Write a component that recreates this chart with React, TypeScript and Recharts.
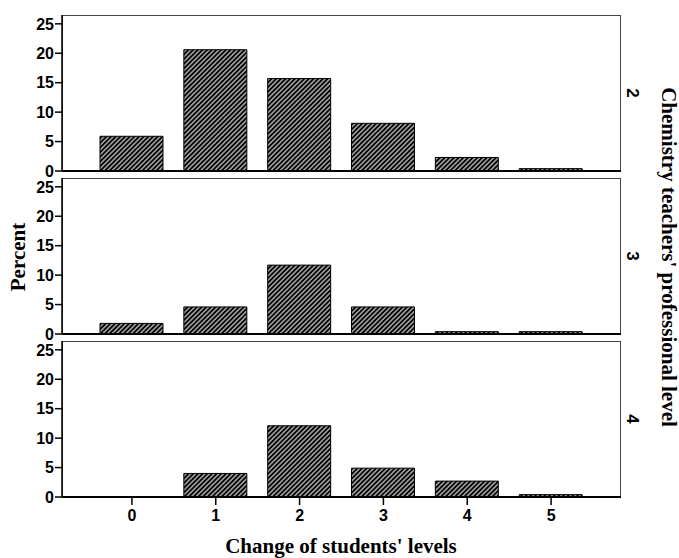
import { BarChart, Bar, XAxis, YAxis, ReferenceLine } from 'recharts';

const levels = ['0', '1', '2', '3', '4', '5'];
const yTicks = [0, 5, 10, 15, 20, 25];

// percent per change of students' levels, one array per teacher level
const level2 = [5.9, 20.6, 15.7, 8.1, 2.3, 0.4];
const level3 = [1.8, 4.6, 11.7, 4.6, 0.4, 0.4];
const level4 = [0, 4.0, 12.1, 4.9, 2.7, 0.4];

const panels = [
  { label: '2', values: level2, top: 15 },
  { label: '3', values: level3, top: 178 },
  { label: '4', values: level4, top: 341 },
];

const PLOT_LEFT = 62;
const PLOT_RIGHT = 621;
const PLOT_H = 156;
const W = 679;

const sans = 'Liberation Sans, Arial, sans-serif';
const serif = 'Liberation Serif, Times New Roman, serif';
const tickStyle = { fill: '#000', fontSize: 16, fontWeight: 700, fontFamily: sans };

function Panel({ values, idx, last }: { values: number[]; idx: number; last: boolean }) {
  const data = levels.map((level, i) => ({ level, value: values[i] }));
  const xh = last ? 40 : 0;
  const pid = `hatch${idx}`;
  return (
    <BarChart
      width={W}
      height={10 + PLOT_H + (last ? xh : 10)}
      data={data}
      margin={{ top: 10, right: W - PLOT_RIGHT, bottom: last ? 0 : 10, left: PLOT_LEFT - 40 }}
      barCategoryGap={0}
    >
      <defs>
        <pattern id={pid} patternUnits="userSpaceOnUse" width={3.3} height={3.3} patternTransform="rotate(45)">
          <rect x={0} y={0} width={3.3} height={3.3} fill="#000" />
          <line x1={1.65} y1={0} x2={1.65} y2={3.3} stroke="#fff" strokeWidth={1.0} />
        </pattern>
      </defs>
      <XAxis
        dataKey="level"
        hide={!last}
        height={xh}
        padding={{ left: 28, right: 28 }}
        axisLine={{ stroke: '#000', strokeWidth: 2 }}
        tickLine={{ stroke: '#000', strokeWidth: 1.5 }}
        tickSize={8}
        tickMargin={5}
        tick={tickStyle}
      />
      <YAxis
        width={40}
        domain={[0, 26.5]}
        ticks={yTicks}
        axisLine={{ stroke: '#000', strokeWidth: 1.5 }}
        tickLine={{ stroke: '#000', strokeWidth: 1.5 }}
        tickSize={7}
        tickMargin={1}
        tick={tickStyle}
      />
      <Bar
        dataKey="value"
        fill={`url(#${pid})`}
        stroke="#000"
        strokeWidth={1}
        barSize={63}
        isAnimationActive={false}
      />
      {!last && <ReferenceLine y={0} stroke="#000" strokeWidth={2} />}
    </BarChart>
  );
}

export default function App() {
  return (
    <div style={{ position: 'absolute', left: 0, top: 0, width: W, height: 558, background: '#fff', overflow: 'hidden' }}>
      {panels.map((p, i) => (
        <div key={p.label}>
          <div
            style={{
              position: 'absolute',
              left: PLOT_LEFT,
              top: p.top,
              width: PLOT_RIGHT - PLOT_LEFT,
              height: PLOT_H,
              boxSizing: 'border-box',
              border: '1px solid #444',
            }}
          />
          <div style={{ position: 'absolute', left: 0, top: p.top - 10 }}>
            <Panel values={p.values} idx={i} last={i === panels.length - 1} />
          </div>
          <div
            style={{
              position: 'absolute',
              left: 632,
              top: p.top + PLOT_H / 2,
              transform: 'translate(-50%, -50%) rotate(90deg)',
              fontFamily: sans,
              fontWeight: 700,
              fontSize: 17,
              lineHeight: 1,
            }}
          >
            {p.label}
          </div>
        </div>
      ))}
      <div
        style={{
          position: 'absolute',
          left: 18,
          top: 257,
          transform: 'translate(-50%, -50%) rotate(-90deg)',
          fontFamily: serif,
          fontWeight: 700,
          fontSize: 21,
          lineHeight: 1,
          whiteSpace: 'nowrap',
        }}
      >
        Percent
      </div>
      <div
        style={{
          position: 'absolute',
          left: 668,
          top: 257,
          transform: 'translate(-50%, -50%) rotate(90deg)',
          fontFamily: serif,
          fontWeight: 700,
          fontSize: 21,
          lineHeight: 1,
          whiteSpace: 'nowrap',
        }}
      >
        Chemistry teachers' professional level
      </div>
      <div
        style={{
          position: 'absolute',
          left: 341,
          top: 546,
          transform: 'translate(-50%, -50%)',
          fontFamily: serif,
          fontWeight: 700,
          fontSize: 21,
          lineHeight: 1,
          whiteSpace: 'nowrap',
        }}
      >
        Change of students' levels
      </div>
    </div>
  );
}
